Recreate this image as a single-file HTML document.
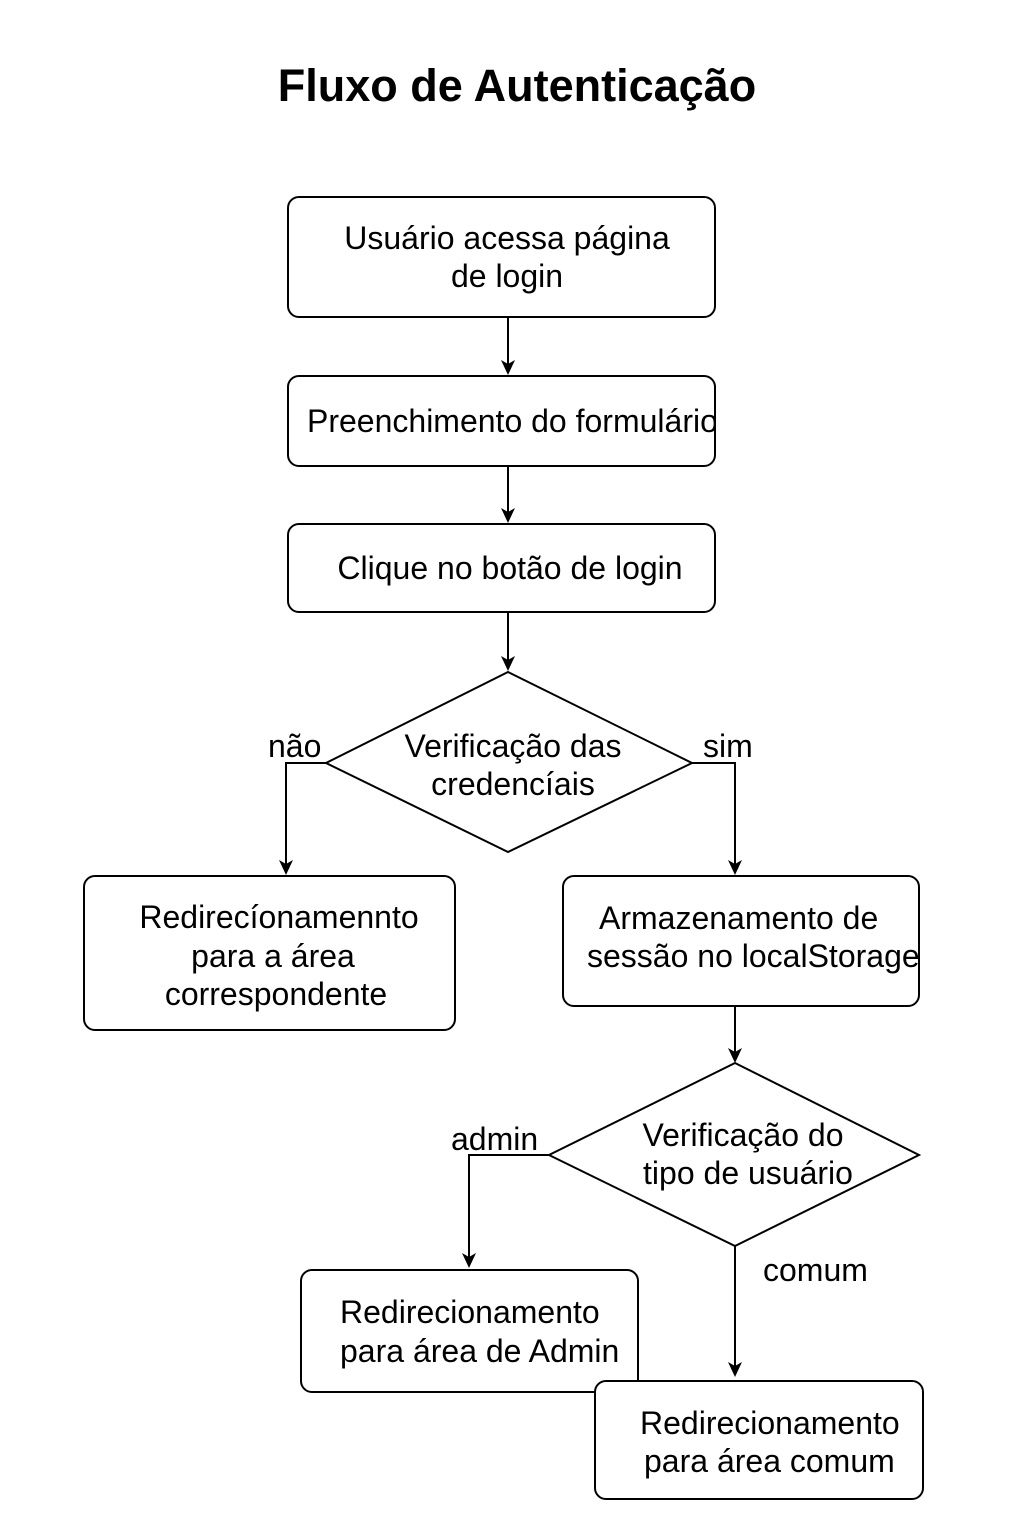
<!DOCTYPE html>
<html><head><meta charset="utf-8"><style>
html,body{margin:0;padding:0;background:#fff;}
svg{display:block;}
text{font-family:"Liberation Sans",Arial,sans-serif;fill:#000;}
</style></head><body>
<svg width="1024" height="1536" viewBox="0 0 1024 1536" xmlns="http://www.w3.org/2000/svg">
<defs>
<clipPath id="c2"><rect x="288" y="376" width="427" height="90"/></clipPath>
</defs>
<style>.s{fill:#fff;stroke:#000;stroke-width:2}.l{fill:none;stroke:#000;stroke-width:2}.t{font-size:32px}</style>
<text x="517" y="101" text-anchor="middle" font-size="45" font-weight="bold">Fluxo de Autenticação</text>

<rect class="s" x="288" y="197" width="427" height="120" rx="11"/>
<text class="t" x="507" y="249" text-anchor="middle">Usuário acessa página</text>
<text class="t" x="507" y="287" text-anchor="middle">de login</text>

<path class="l" d="M508 317 V364"/><path d="M501 360 L508 375 L515 360 L508 364Z"/>

<rect class="s" x="288" y="376" width="427" height="90" rx="11"/>
<text class="t" x="307" y="432" clip-path="url(#c2)">Preenchimento do formulário</text>

<path class="l" d="M508 466 V512"/><path d="M501 508 L508 523 L515 508 L508 512Z"/>

<rect class="s" x="288" y="524" width="427" height="88" rx="11"/>
<text class="t" x="510" y="579" text-anchor="middle">Clique no botão de login</text>

<path class="l" d="M508 612 V660"/><path d="M501 656 L508 671 L515 656 L508 660Z"/>

<polygon class="s" points="508,672 692,763 508,852 326,763"/>
<text class="t" x="513" y="757" text-anchor="middle">Verificação das</text>
<text class="t" x="513" y="795" text-anchor="middle">credencíais</text>

<path class="l" d="M326 763 H286 V864"/><path d="M279 860 L286 875 L293 860 L286 864Z"/>
<text class="t" x="268" y="757">não</text>
<path class="l" d="M692 763 H735 V864"/><path d="M728 860 L735 875 L742 860 L735 864Z"/>
<text class="t" x="703" y="757">sim</text>

<rect class="s" x="84" y="876" width="371" height="154" rx="11"/>
<text class="t" x="279" y="928" text-anchor="middle">Redirecíonamennto</text>
<text class="t" x="273" y="967" text-anchor="middle">para a área</text>
<text class="t" x="276" y="1005" text-anchor="middle">correspondente</text>

<rect class="s" x="563" y="876" width="356" height="130" rx="11"/>
<text class="t" x="599" y="929">Armazenamento de</text>
<text class="t" x="587" y="967">sessão no localStorage</text>

<path class="l" d="M735 1006 V1052"/><path d="M728 1048 L735 1063 L742 1048 L735 1052Z"/>

<polygon class="s" points="735,1063 919,1155 735,1246 549,1155"/>
<text class="t" x="743" y="1146" text-anchor="middle">Verificação do</text>
<text class="t" x="748" y="1184" text-anchor="middle">tipo de usuário</text>

<path class="l" d="M549 1155 H469 V1257"/><path d="M462 1253 L469 1268 L476 1253 L469 1257Z"/>
<text class="t" x="451" y="1150">admin</text>
<path class="l" d="M735 1246 V1366"/><path d="M728 1362 L735 1377 L742 1362 L735 1366Z"/>
<text class="t" x="763" y="1281">comum</text>

<rect class="s" x="301" y="1270" width="337" height="122" rx="11"/>
<text class="t" x="340" y="1323">Redirecionamento</text>
<text class="t" x="340" y="1362">para área de Admin</text>

<rect class="s" x="595" y="1381" width="328" height="118" rx="11"/>
<text class="t" x="640" y="1434">Redirecionamento</text>
<text class="t" x="644" y="1472">para área comum</text>
</svg>
</body></html>
